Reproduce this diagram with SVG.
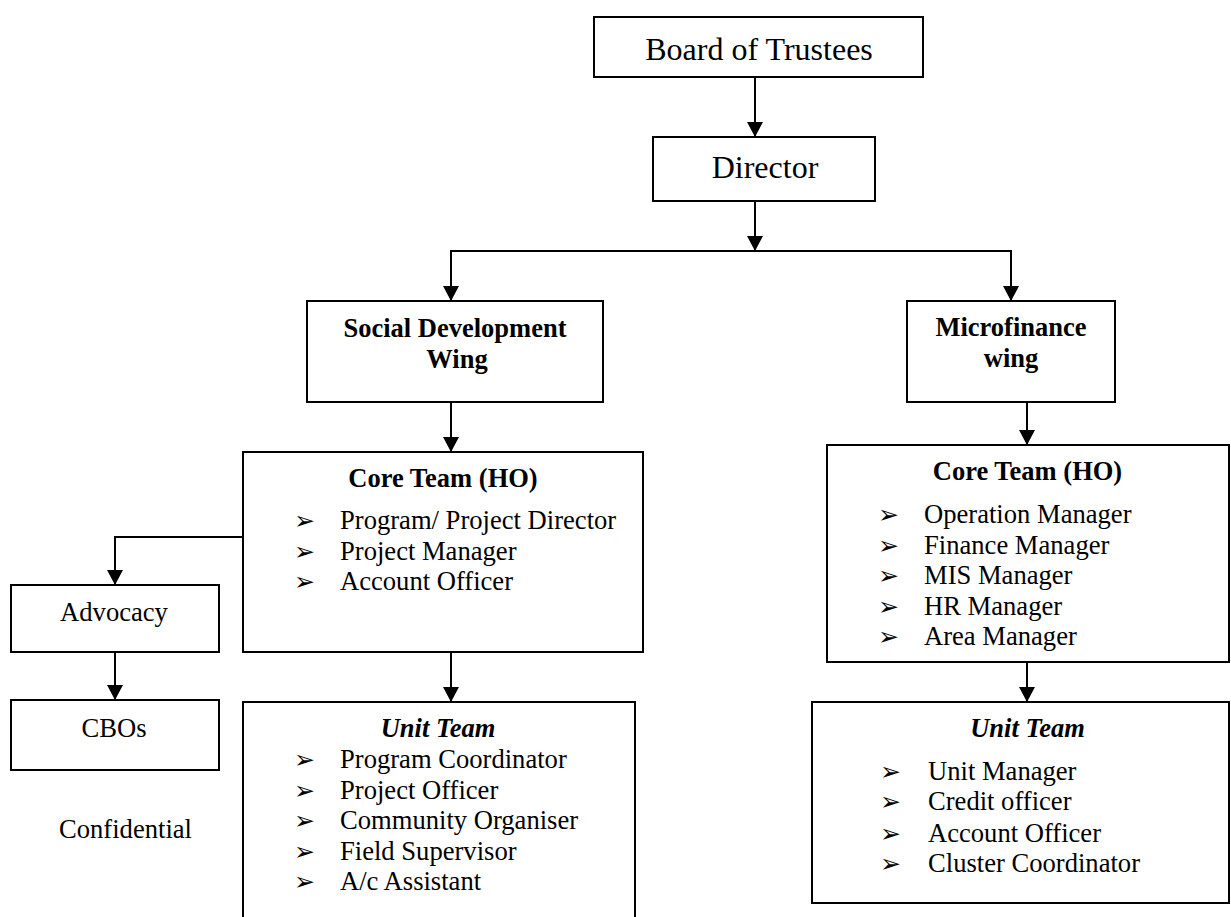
<svg xmlns="http://www.w3.org/2000/svg" width="1231" height="917" viewBox="0 0 1231 917">
<style>
.box{fill:#fff;stroke:#000;stroke-width:2}
.t{font-family:"Liberation Serif","Times New Roman",serif;fill:#000}
.big{font-size:32px}
.reg{font-size:26.6px}
.bold{font-size:26.5px;font-weight:bold}
.bi{font-size:26.5px;font-weight:bold;font-style:italic}
.c{text-anchor:middle}
.bul{font-family:"DejaVu Sans",sans-serif;font-size:25px;fill:#000}
.ln{fill:none;stroke:#000;stroke-width:2}
</style>
<defs>
<marker id="ah" viewBox="0 0 15 16" refX="15" refY="8" markerWidth="15" markerHeight="16" markerUnits="userSpaceOnUse" orient="auto">
<path d="M0,0 L15,8 L0,16 z" fill="#000"/>
</marker>
</defs>
<rect width="1231" height="917" fill="#fff"/>
<g id="connectors">
<path class="ln" d="M755,77 V137" marker-end="url(#ah)"/>
<path class="ln" d="M755,201 V251" marker-end="url(#ah)"/>
<path class="ln" d="M451,251 H1011"/>
<path class="ln" d="M451,250 V301" marker-end="url(#ah)"/>
<path class="ln" d="M1011,250 V301" marker-end="url(#ah)"/>
<path class="ln" d="M451,402 V452" marker-end="url(#ah)"/>
<path class="ln" d="M1027,402 V445" marker-end="url(#ah)"/>
<path class="ln" d="M243,537 H115 V585" marker-end="url(#ah)"/>
<path class="ln" d="M115,652 V700" marker-end="url(#ah)"/>
<path class="ln" d="M451,652 V702" marker-end="url(#ah)"/>
<path class="ln" d="M1027,662 V702" marker-end="url(#ah)"/>
</g>
<g id="board">
<rect class="box" x="594" y="17" width="329" height="60"/>
<text class="t big c" x="759" y="60">Board of Trustees</text>
</g>
<g id="director">
<rect class="box" x="653" y="137" width="222" height="64"/>
<text class="t big c" x="765" y="178">Director</text>
</g>
<g id="social-wing">
<rect class="box" x="307" y="301" width="296" height="101"/>
<text class="t bold c" x="455" y="337">Social Development</text>
<text class="t bold c" x="457" y="368">Wing</text>
</g>
<g id="micro-wing">
<rect class="box" x="907" y="301" width="208" height="101"/>
<text class="t bold c" x="1011" y="336">Microfinance</text>
<text class="t bold c" x="1011" y="367">wing</text>
</g>
<g id="core-left">
<rect class="box" x="243" y="452" width="400" height="200"/>
<text class="t bold c" x="443" y="487">Core Team (HO)</text>
<text class="bul" x="294" y="529">➢</text><text class="t reg" x="340" y="529">Program/ Project Director</text>
<text class="bul" x="294" y="559.5">➢</text><text class="t reg" x="340" y="559.5">Project Manager</text>
<text class="bul" x="294" y="590">➢</text><text class="t reg" x="340" y="590">Account Officer</text>
</g>
<g id="core-right">
<rect class="box" x="827" y="445" width="402" height="217"/>
<text class="t bold c" x="1027.5" y="480">Core Team (HO)</text>
<text class="bul" x="878" y="523">➢</text><text class="t reg" x="924" y="523">Operation Manager</text>
<text class="bul" x="878" y="553.5">➢</text><text class="t reg" x="924" y="553.5">Finance Manager</text>
<text class="bul" x="878" y="584">➢</text><text class="t reg" x="924" y="584">MIS Manager</text>
<text class="bul" x="878" y="615">➢</text><text class="t reg" x="924" y="615">HR Manager</text>
<text class="bul" x="878" y="645">➢</text><text class="t reg" x="924" y="645">Area Manager</text>
</g>
<g id="advocacy">
<rect class="box" x="11" y="585" width="208" height="67"/>
<text class="t reg c" x="114" y="621">Advocacy</text>
</g>
<g id="cbos">
<rect class="box" x="11" y="700" width="208" height="70"/>
<text class="t reg c" x="114" y="737">CBOs</text>
</g>
<g id="confidential">
<text class="t reg c" x="125.5" y="838">Confidential</text>
</g>
<g id="unit-left">
<rect class="box" x="243" y="702" width="392" height="230"/>
<text class="t bi c" x="438" y="737">Unit Team</text>
<text class="bul" x="294" y="768">➢</text><text class="t reg" x="340" y="768">Program Coordinator</text>
<text class="bul" x="294" y="798.5">➢</text><text class="t reg" x="340" y="798.5">Project Officer</text>
<text class="bul" x="294" y="829">➢</text><text class="t reg" x="340" y="829">Community Organiser</text>
<text class="bul" x="294" y="860">➢</text><text class="t reg" x="340" y="860">Field Supervisor</text>
<text class="bul" x="294" y="890">➢</text><text class="t reg" x="340" y="890">A/c Assistant</text>
</g>
<g id="unit-right">
<rect class="box" x="812" y="702" width="417" height="201"/>
<text class="t bi c" x="1027.5" y="737">Unit Team</text>
<text class="bul" x="880" y="780">➢</text><text class="t reg" x="928" y="780">Unit Manager</text>
<text class="bul" x="880" y="810">➢</text><text class="t reg" x="928" y="810">Credit officer</text>
<text class="bul" x="880" y="841.5">➢</text><text class="t reg" x="928" y="841.5">Account Officer</text>
<text class="bul" x="880" y="871.5">➢</text><text class="t reg" x="928" y="871.5">Cluster Coordinator</text>
</g>
</svg>
